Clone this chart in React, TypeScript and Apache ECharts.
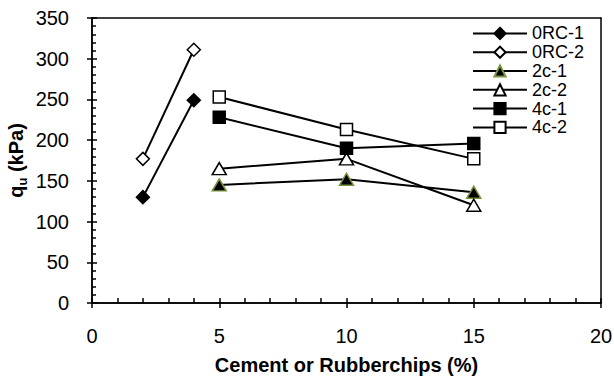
import React, { useEffect, useRef } from "react";
import * as echarts from "echarts";

const xRC = [2, 4];
const xC = [5, 10, 15];
const rc1 = [130, 249];
const rc2 = [177, 311];
const c2_1 = [145, 152, 136];
const c2_2 = [165, 177, 120];
const c4_1 = [228, 190, 196];
const c4_2 = [253, 213, 177];

const xTicks = [0, 5, 10, 15, 20];
const yTicks = [0, 50, 100, 150, 200, 250, 300, 350];

const FONT = "'Liberation Sans', Arial, sans-serif";

function pairs(xs: number[], ys: number[]) {
  return xs.map((x, i) => [x, ys[i]]);
}

export default function App() {
  const ref = useRef<HTMLDivElement>(null);
  useEffect(() => {
    if (!ref.current) return;
    const chart = echarts.init(ref.current, null, { renderer: "svg" });
    const black = "#000";
    const green = "#77933C";
    const mk = (
      name: string,
      data: number[][],
      symbol: string,
      size: number | number[],
      fill: string,
      border: string
    ) => ({
      name,
      type: "line",
      data,
      symbol,
      symbolSize: size,
      showSymbol: true,
      lineStyle: { color: black, width: 2 },
      itemStyle: { color: fill, borderColor: border, borderWidth: 1.5 },
      xAxisIndex: 0,
      yAxisIndex: 0,
      z: 3,
    });
    const xBase = {
      type: "value",
      min: xTicks[0],
      max: xTicks[xTicks.length - 1],
      interval: 5,
      position: "bottom",
      axisLine: { show: true, onZero: false, lineStyle: { color: black, width: 1.5 } },
      splitLine: { show: false },
    };
    const yBase = {
      type: "value",
      min: yTicks[0],
      max: yTicks[yTicks.length - 1],
      interval: 50,
      position: "left",
      axisLine: { show: true, onZero: false, lineStyle: { color: black, width: 1.5 } },
      splitLine: { show: false },
    };
    chart.setOption({
      animation: false,
      backgroundColor: "#fff",
      grid: {
        left: 92,
        top: 18,
        right: 13,
        bottom: 82,
        containLabel: false,
        outerBoundsMode: "none",
      },
      legend: {
        orient: "vertical",
        left: 467,
        top: 19,
        padding: 5,
        itemWidth: 54,
        itemHeight: 14,
        itemGap: 0,
        lineStyle: { color: black, width: 2 },
        textStyle: { fontFamily: FONT, fontSize: 18, color: black, lineHeight: 18.8 },
        data: ["0RC-1", "0RC-2", "2c-1", "2c-2", "4c-1", "4c-2"],
      },
      xAxis: [
        {
          ...xBase,
          name: "Cement or Rubberchips (%)",
          nameLocation: "middle",
          nameGap: 52,
          nameMoveOverlap: false,
          nameTextStyle: {
            fontFamily: FONT,
            fontSize: 20,
            fontWeight: "bold",
            color: black,
            verticalAlign: "top",
          },
          axisTick: { show: true, inside: false, length: 5, lineStyle: { color: black, width: 1.5 } },
          axisLabel: { fontFamily: FONT, fontSize: 20, color: black, margin: 23 },
        },
        {
          ...xBase,
          axisTick: { show: true, inside: true, length: 5, lineStyle: { color: black, width: 1.5 } },
          minorTick: { show: true, splitNumber: 5, length: 5, lineStyle: { color: black, width: 1.5 } },
          axisLabel: { show: false },
        },
        {
          ...xBase,
          position: "top",
          axisTick: { show: false },
          axisLabel: { show: false },
        },
      ],
      yAxis: [
        {
          ...yBase,
          name: "{q|q}{s|u}{q| (kPa)}",
          nameLocation: "middle",
          nameGap: 63,
          nameMoveOverlap: false,
          nameRotate: 90,
          nameTextStyle: {
            rich: {
              q: { fontFamily: FONT, fontSize: 20, fontWeight: "bold", color: black, lineHeight: 26 },
              s: {
                fontFamily: FONT,
                fontSize: 13,
                fontWeight: "bold",
                color: black,
                verticalAlign: "bottom",
                lineHeight: 26,
              },
            },
          },
          axisTick: { show: true, inside: false, length: 5, lineStyle: { color: black, width: 1.5 } },
          axisLabel: { fontFamily: FONT, fontSize: 20, color: black, margin: 23 },
        },
        {
          ...yBase,
          axisTick: { show: true, inside: true, length: 5, lineStyle: { color: black, width: 1.5 } },
          minorTick: { show: true, splitNumber: 5, length: 4, lineStyle: { color: black, width: 1.5 } },
          axisLabel: { show: false },
        },
        {
          ...yBase,
          position: "right",
          axisTick: { show: false },
          axisLabel: { show: false },
        },
      ],
      series: [
        mk("0RC-1", pairs(xRC, rc1), "diamond", 13, black, black),
        mk("0RC-2", pairs(xRC, rc2), "diamond", 13, "#fff", black),
        mk("2c-1", pairs(xC, c2_1), "triangle", [14, 12], black, green),
        mk("2c-2", pairs(xC, c2_2), "triangle", [14, 12], "#fff", black),
        mk("4c-1", pairs(xC, c4_1), "rect", 12, black, black),
        mk("4c-2", pairs(xC, c4_2), "rect", 12, "#fff", black),
      ],
    });
    return () => chart.dispose();
  }, []);
  return (
    <div
      ref={ref}
      style={{ position: "absolute", left: 0, top: 0, width: 614, height: 385 }}
    />
  );
}
